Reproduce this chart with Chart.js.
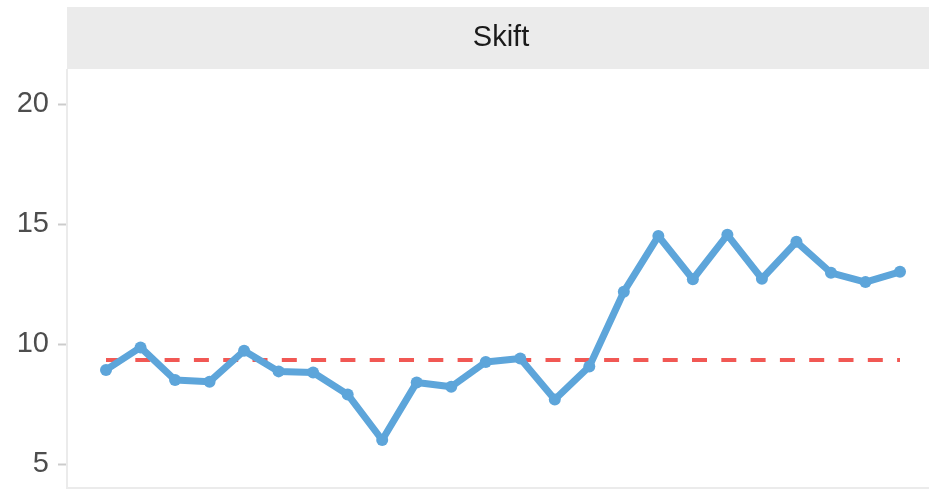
<!DOCTYPE html>
<html>
<head>
<meta charset="utf-8">
<script src="https://cdn.jsdelivr.net/npm/chart.js@4/dist/chart.umd.min.js"></script>
<style>
  html, body { margin: 0; padding: 0; background: #ffffff; }
  canvas { display: block; }
</style>
</head>
<body>
<canvas id="c" width="929" height="489"></canvas>
<script>
// ---- data ----
const periods = [1, 2, 3, 4, 5, 6, 7, 8, 9, 10, 11, 12, 13, 14, 15, 16, 17, 18, 19, 20, 21, 22, 23, 24];
const values  = [8.92, 9.86, 8.50, 8.43, 9.72, 8.86, 8.81, 7.90, 6.00, 8.40, 8.22, 9.25,
                 9.40, 7.69, 9.06, 12.18, 14.50, 12.70, 14.55, 12.72, 14.26, 12.97, 12.58, 13.01];
const medianValue = [9.33];
const yTicks = [5, 10, 15, 20];
const stripTitle = 'Skift';

const FONT = '"Liberation Sans", Arial, Helvetica, sans-serif';

const stripPlugin = {
  id: 'strip',
  beforeDraw(chart) {
    const ctx = chart.ctx;
    const a = chart.chartArea;
    ctx.save();
    ctx.fillStyle = '#ebebeb';
    ctx.fillRect(a.left, 7, chart.width - a.left, a.top - 7 - 1);
    ctx.fillStyle = '#1a1a1a';
    ctx.font = '29px ' + FONT;
    ctx.textAlign = 'center';
    ctx.textBaseline = 'alphabetic';
    ctx.fillText(stripTitle, 501, 46);
    // bottom panel border
    ctx.strokeStyle = '#ebebeb';
    ctx.lineWidth = 2;
    ctx.beginPath();
    ctx.moveTo(a.left, a.bottom);
    ctx.lineTo(chart.width, a.bottom);
    ctx.stroke();
    ctx.restore();
  }
};

const lineData = periods.map((p, i) => ({ x: p, y: values[i] }));
const medData = [
  { x: periods[0], y: medianValue[0] },
  { x: periods[periods.length - 1], y: medianValue[0] }
];

new Chart(document.getElementById('c'), {
  type: 'line',
  data: {
    datasets: [
      {
        data: lineData,
        borderColor: '#5DA5DA',
        backgroundColor: '#5DA5DA',
        borderWidth: 7,
        pointRadius: 6,
        pointBorderWidth: 0,
        pointBackgroundColor: '#5DA5DA',
        borderJoinStyle: 'round',
        borderCapStyle: 'round',
        tension: 0
      },
      {
        data: medData,
        borderColor: '#F15854',
        borderWidth: 4,
        borderDash: [15, 14.3],
        pointRadius: 0,
        tension: 0
      }
    ]
  },
  options: {
    responsive: false,
    animation: false,
    layout: { autoPadding: false, padding: { top: 70, bottom: 1, left: 0, right: 0 } },
    plugins: { legend: { display: false }, tooltip: { enabled: false } },
    scales: {
      x: {
        type: 'linear',
        display: false,
        min: -0.13,
        max: 24.84
      },
      y: {
        type: 'linear',
        min: 4.0,
        max: 21.42,
        afterBuildTicks(scale) {
          scale.ticks = yTicks.map(v => ({ value: v }));
        },
        afterFit(scale) {
          scale.width = 67;
          scale.paddingTop = 0;
          scale.paddingBottom = 0;
        },
        grid: {
          drawOnChartArea: false,
          drawTicks: true,
          tickLength: 9,
          tickColor: '#cccccc',
          tickWidth: 2
        },
        border: { display: true, color: '#ebebeb', width: 2 },
        ticks: {
          color: '#4d4d4d',
          padding: 9,
          font: { family: FONT, size: 29 }
        }
      }
    }
  },
  plugins: [stripPlugin]
});
</script>
</body>
</html>
